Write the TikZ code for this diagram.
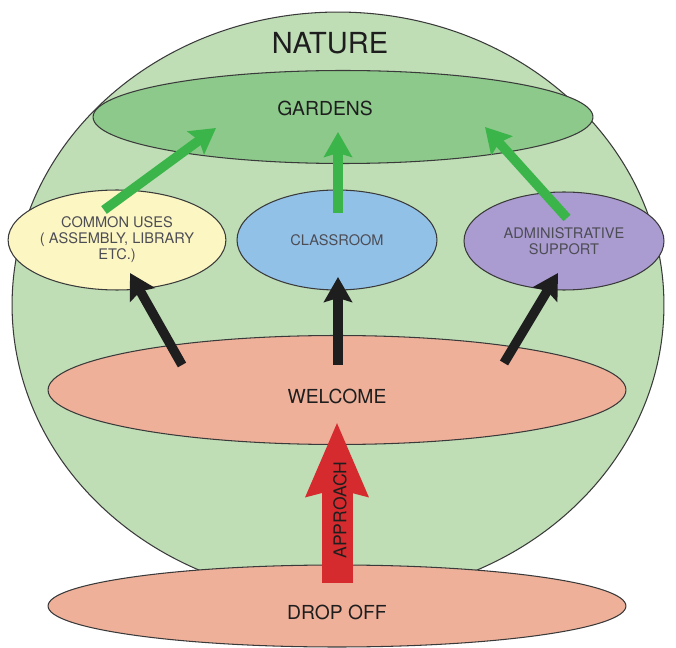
\documentclass[tikz,border=0pt]{standalone}
\usepackage{fontspec}
\setmainfont{TeX Gyre Heros}
\usetikzlibrary{arrows.meta}
\usetikzlibrary{shapes.geometric}
\usetikzlibrary{calc}
\tikzset{>={Stealth[inset=1.5pt]}}
\definecolor{naturefill}{HTML}{BFDEB6}
\definecolor{gardenfill}{HTML}{8DC98B}
\definecolor{commonfill}{HTML}{FCF6C2}
\definecolor{classfill}{HTML}{92C1E8}
\definecolor{adminfill}{HTML}{AA9BD1}
\definecolor{welcomefill}{HTML}{EFB09A}
\definecolor{edge}{HTML}{3A3A3A}
\definecolor{ink}{HTML}{1E1E1E}
\definecolor{softink}{HTML}{4D4D55}
\definecolor{leafgreen}{HTML}{3BB54A}
\definecolor{approachred}{HTML}{D52B2E}

\begin{document}
\begin{tikzpicture}[x=0.02cm, y=-0.02cm,
    zone/.style={ellipse, draw=edge, line width=0.6pt, inner sep=0pt, outer sep=0pt},
    bigtxt/.style={font=\fontsize{11}{13}\selectfont, text=ink},
    smalltxt/.style={font=\fontsize{8.3}{9.1}\selectfont, text=softink, align=center},
    uparrow/.style={-{Stealth[length=0.5cm, width=0.56cm, inset=0.08cm]}, line width=0.19cm}]
      \useasboundingbox (0,0) rectangle (676,648);
      % zones
      \node[zone, fill=naturefill, minimum width=13.04cm, minimum height=11.72cm] (nature) at (338,305) {};
      \node[font=\fontsize{16.5}{18}\selectfont, text=ink] (naturelabel) at (330,43) {NATURE};
      \node[zone, fill=gardenfill, minimum width=10cm, minimum height=1.86cm] (gardens) at (343,117) {};
      \node[bigtxt] (gardenslabel) at (325,108) {GARDENS};
      \node[zone, smalltxt, fill=commonfill, minimum width=4cm, minimum height=2cm] (common) at (117,240)
        {COMMON USES\\( ASSEMBLY, LIBRARY\\ETC.)};
      \node[zone, smalltxt, fill=classfill, minimum width=4cm, minimum height=2cm] (classroom) at (337,240) {CLASSROOM};
      \node[zone, smalltxt, fill=adminfill, minimum width=4cm, minimum height=1.96cm] (admin) at (564,241)
        {ADMINISTRATIVE\\SUPPORT};
      \node[zone, bigtxt, text height=15pt, fill=welcomefill, minimum width=11.56cm, minimum height=2.18cm] (welcome) at (337,390) {WELCOME};
      \node[zone, bigtxt, text height=15pt, fill=welcomefill, minimum width=11.56cm, minimum height=1.64cm] (dropoff) at (337,606) {DROP OFF};
      % black arrows
      \draw[uparrow, draw=ink] ($(welcome)+(-155,-25)$) -- ($(common)+(13,33)$);
      \draw[uparrow, draw=ink] ($(welcome)+(1,-25)$) -- ($(classroom)+(1,37)$);
      \draw[uparrow, draw=ink] ($(welcome)+(167,-27)$) -- ($(admin)+(-6,32)$);
      % green arrows
      \draw[uparrow, draw=leafgreen] ($(common)+(-13,-30)$) -- ($(gardens)+(-127,11)$);
      \draw[uparrow, draw=leafgreen] ($(classroom)+(1,-27)$) -- ($(gardens)+(-5,15)$);
      \draw[uparrow, draw=leafgreen] ($(admin)+(3,-23)$) -- ($(gardens)+(142,10)$);
      % approach
      \draw[-{Stealth[length=1.46cm, width=1.18cm, inset=0.12cm]}, line width=0.62cm, draw=approachred]
        ($(dropoff)+(0,-23)$) -- ($(welcome)+(0,32)$);
      \node[rotate=90, font=\fontsize{10}{12}\selectfont, text=ink] (approachlabel) at (340,510) {APPROACH};
\end{tikzpicture}
\end{document}
